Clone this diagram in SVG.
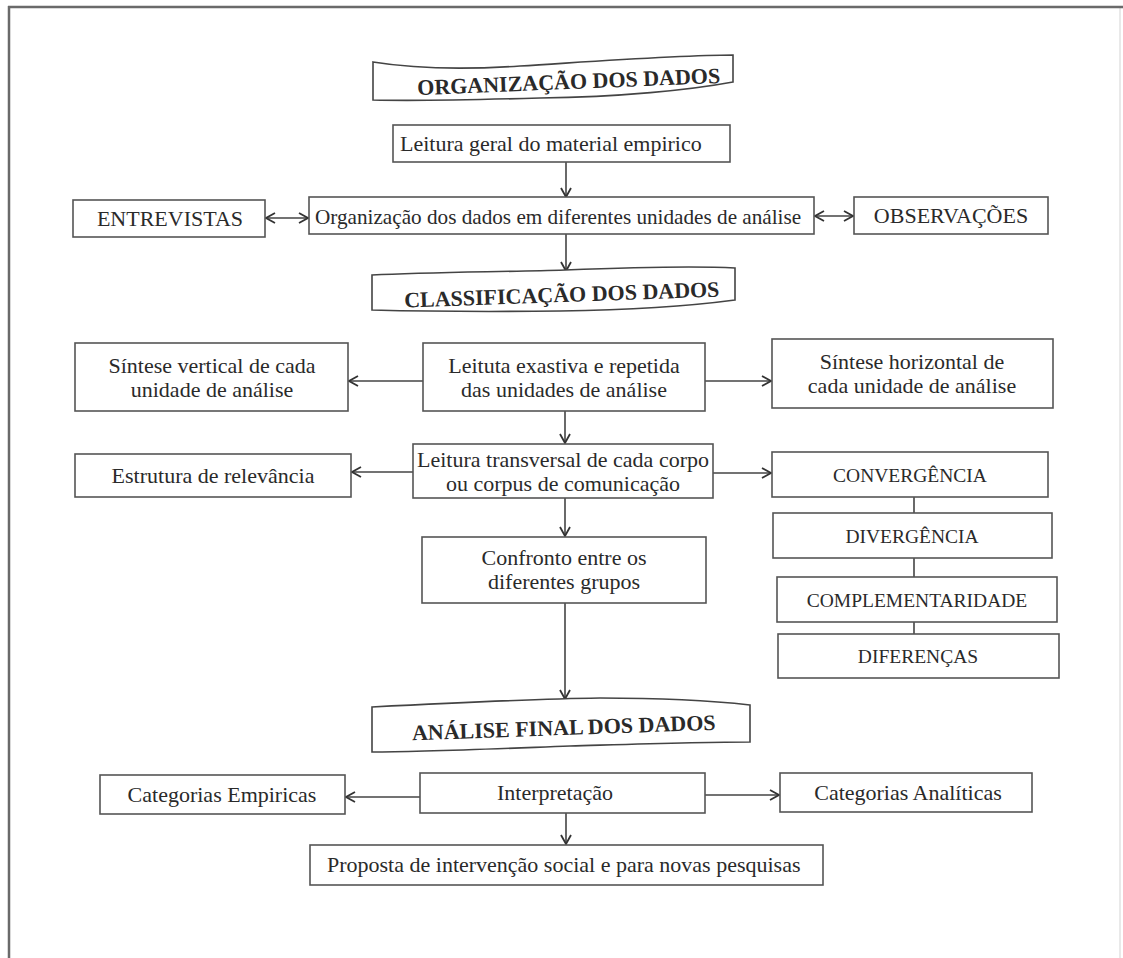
<svg xmlns="http://www.w3.org/2000/svg" width="1123" height="958" viewBox="0 0 1123 958">
<style>
.t{font-family:"Liberation Serif","Times New Roman",serif;font-size:22px;fill:#2a2a2a}
.s{font-size:19.5px}
.n{font-size:21.2px}
.b{font-weight:bold}
.m{text-anchor:middle}
.box{fill:#fff;stroke:#555;stroke-width:1.6}
.ban{fill:#fff;stroke:#444;stroke-width:1.6}
.c{fill:none;stroke:#444;stroke-width:1.6}
.a{marker-end:url(#ah)}
.d{marker-start:url(#ah);marker-end:url(#ah)}
</style>
<defs>
<marker id="ah" viewBox="0 0 12 12" refX="11" refY="6" markerWidth="12" markerHeight="12" markerUnits="userSpaceOnUse" orient="auto-start-reverse">
<path d="M2,1 L11,6 L2,11" fill="none" stroke="#333" stroke-width="1.8"/>
</marker>
</defs>
<rect x="0" y="0" width="1123" height="958" fill="#fff"/>
<g id="frame">
<line x1="1120" y1="7" x2="1120" y2="958" stroke="#e2e2e2" stroke-width="1.5"/>
<line x1="8" y1="7" x2="1123" y2="7" stroke="#6a6a6a" stroke-width="2.5"/>
<line x1="9" y1="6" x2="9" y2="958" stroke="#6a6a6a" stroke-width="2.5"/>
</g>
<g id="connectors">
<line class="c a" x1="566" y1="162" x2="566" y2="197"/>
<line class="c d" x1="266" y1="218" x2="308" y2="218"/>
<line class="c d" x1="815" y1="216" x2="853" y2="216"/>
<line class="c a" x1="566" y1="234" x2="566" y2="271"/>
<line class="c a" x1="423" y1="381" x2="349" y2="381"/>
<line class="c a" x1="705" y1="381" x2="771" y2="381"/>
<line class="c a" x1="565" y1="411" x2="565" y2="443"/>
<line class="c a" x1="413" y1="472" x2="352" y2="472"/>
<line class="c a" x1="713" y1="473" x2="771" y2="473"/>
<line class="c a" x1="565" y1="498" x2="565" y2="536"/>
<line class="c" x1="914" y1="497" x2="914" y2="513"/>
<line class="c" x1="914" y1="558" x2="914" y2="577"/>
<line class="c" x1="914" y1="622" x2="914" y2="634"/>
<line class="c a" x1="565" y1="603" x2="565" y2="699"/>
<line class="c a" x1="420" y1="797" x2="346" y2="797"/>
<line class="c a" x1="705" y1="795" x2="779" y2="795"/>
<line class="c a" x1="566" y1="813" x2="566" y2="844"/>
</g>
<g id="banner_organizacao">
<path class="ban" d="M373,62 C410,68 460,70 520,66 C600,61 680,55 733,55 L733,82 C690,90 620,97 540,98 C470,100 410,101 373,100 Z"/>
<text class="t b m" x="569" y="89" transform="rotate(-2.3 569 89)">ORGANIZAÇÃO DOS DADOS</text>
</g>
<g id="leitura_geral">
<rect class="box" x="393" y="125" width="337" height="37"/>
<text class="t" x="400" y="151">Leitura geral do material empirico</text>
</g>
<g id="entrevistas">
<rect class="box" x="73" y="200" width="192" height="37"/>
<text class="t m" x="170" y="226">ENTREVISTAS</text>
</g>
<g id="organizacao">
<rect class="box" x="309" y="197" width="505" height="37"/>
<text class="t n" x="315" y="224">Organização dos dados em diferentes unidades de análise</text>
</g>
<g id="observacoes">
<rect class="box" x="854" y="197" width="194" height="37"/>
<text class="t m" x="951" y="223">OBSERVAÇÕES</text>
</g>
<g id="banner_classificacao">
<path class="ban" d="M372,275 C430,272 500,272 565,270 C640,267 700,266 735,268 L735,300 C690,306 630,310 560,311 C480,312 410,311 372,310 Z"/>
<text class="t b m" x="562" y="302" transform="rotate(-2 562 302)">CLASSIFICAÇÃO DOS DADOS</text>
</g>
<g id="sintese_vertical">
<rect class="box" x="75" y="343" width="273" height="68"/>
<text class="t m" x="212" y="373">Síntese vertical de cada</text>
<text class="t m" x="212" y="397">unidade de análise</text>
</g>
<g id="leitura_exastiva">
<rect class="box" x="423" y="343" width="282" height="68"/>
<text class="t m" x="564" y="373">Leituta exastiva e repetida</text>
<text class="t m" x="564" y="397">das unidades de análise</text>
</g>
<g id="sintese_horizontal">
<rect class="box" x="772" y="339" width="281" height="69"/>
<text class="t m" x="912" y="369">Síntese horizontal de</text>
<text class="t m" x="912" y="393">cada unidade de análise</text>
</g>
<g id="estrutura">
<rect class="box" x="75" y="454" width="276" height="43"/>
<text class="t m" x="213" y="483">Estrutura de relevância</text>
</g>
<g id="leitura_transversal">
<rect class="box" x="413" y="444" width="300" height="54"/>
<text class="t m" x="563" y="467">Leitura transversal de cada corpo</text>
<text class="t m" x="563" y="491">ou corpus de comunicação</text>
</g>
<g id="convergencia">
<rect class="box" x="772" y="452" width="276" height="45"/>
<text class="t s m" x="910" y="482">CONVERGÊNCIA</text>
</g>
<g id="divergencia">
<rect class="box" x="773" y="513" width="279" height="45"/>
<text class="t s m" x="912" y="543">DIVERGÊNCIA</text>
</g>
<g id="complementaridade">
<rect class="box" x="777" y="577" width="280" height="45"/>
<text class="t s m" x="917" y="607">COMPLEMENTARIDADE</text>
</g>
<g id="diferencas">
<rect class="box" x="778" y="634" width="281" height="44"/>
<text class="t s m" x="918" y="663">DIFERENÇAS</text>
</g>
<g id="confronto">
<rect class="box" x="422" y="537" width="284" height="66"/>
<text class="t m" x="564" y="565">Confronto entre os</text>
<text class="t m" x="564" y="589">diferentes grupos</text>
</g>
<g id="banner_analise">
<path class="ban" d="M372,707 C450,703 530,699 600,698 C660,698 715,701 750,705 L750,742 C700,742 640,744 570,746 C490,749 420,752 372,752 Z"/>
<text class="t b m" x="564" y="735" transform="rotate(-2 564 735)">ANÁLISE FINAL DOS DADOS</text>
</g>
<g id="categorias_empiricas">
<rect class="box" x="100" y="775" width="245" height="39"/>
<text class="t m" x="222" y="802">Categorias Empiricas</text>
</g>
<g id="interpretacao">
<rect class="box" x="420" y="773" width="285" height="40"/>
<text class="t" x="497" y="800">Interpretação</text>
</g>
<g id="categorias_analiticas">
<rect class="box" x="780" y="773" width="252" height="39"/>
<text class="t m" x="908" y="800">Categorias Analíticas</text>
</g>
<g id="proposta">
<rect class="box" x="310" y="845" width="513" height="40"/>
<text class="t" x="327" y="872">Proposta de intervenção social e para novas pesquisas</text>
</g>
</svg>
